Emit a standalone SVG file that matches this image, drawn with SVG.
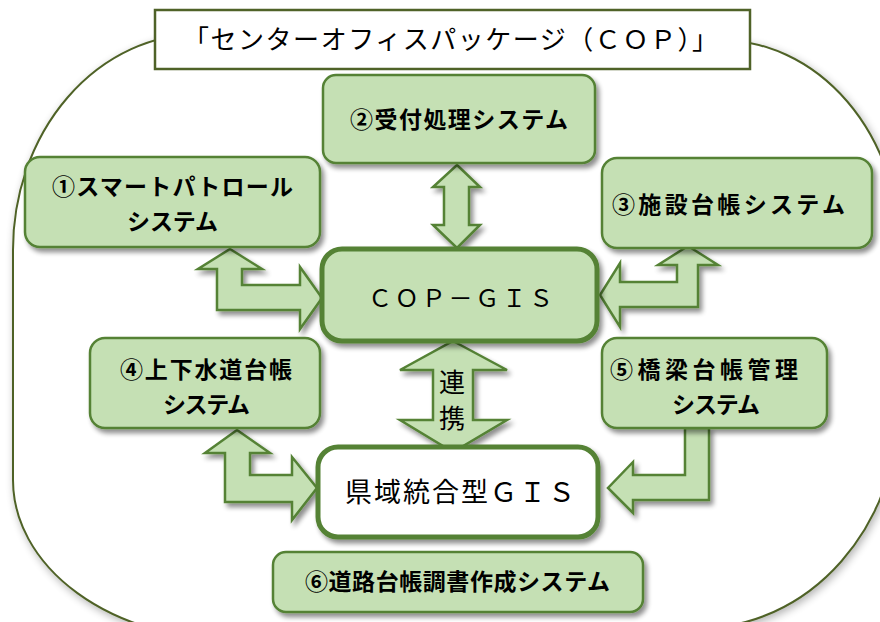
<svg xmlns="http://www.w3.org/2000/svg" width="880" height="622" viewBox="0 0 880 622">
<defs>
<filter id="sh" x="-20%" y="-20%" width="140%" height="140%">
<feGaussianBlur in="SourceAlpha" stdDeviation="2.5"/>
<feOffset dx="3" dy="4" result="b"/>
<feComponentTransfer><feFuncA type="linear" slope="0.45"/></feComponentTransfer>
<feMerge><feMergeNode/><feMergeNode in="SourceGraphic"/></feMerge>
</filter>
<filter id="shOuter" x="-10%" y="-10%" width="120%" height="120%">
<feGaussianBlur in="SourceAlpha" stdDeviation="4"/>
<feOffset dx="2" dy="3" result="b"/>
<feComponentTransfer><feFuncA type="linear" slope="0.3"/></feComponentTransfer>
<feMerge><feMergeNode/><feMergeNode in="SourceGraphic"/></feMerge>
</filter>
</defs>
<style>
.node{fill:#C5E0B4;stroke:#548235;stroke-width:2.5}
.core{fill:#C5E0B4;stroke:#548235;stroke-width:5}
.core2{fill:#FFFFFF;stroke:#548235;stroke-width:5}
.arrow{fill:#C5E0B4;stroke:#548235;stroke-width:2.5;stroke-linejoin:miter}
.t{font-family:"Noto Sans CJK JP","Noto Sans",sans-serif;font-weight:bold;font-size:23px;fill:#000;text-anchor:middle}
.r{font-family:"Noto Sans CJK JP","Noto Sans",sans-serif;font-weight:normal;fill:#000;text-anchor:middle}
</style>
<rect width="880" height="622" fill="#FFFFFF"/>
<g id="package">
<path d="M 200 34 A 187 216 0 0 0 13 250 L 13 480 A 220 160 0 0 0 233 640 L 700 628 A 200 228 0 0 0 900 400 L 900 250 A 180 210 0 0 0 720 40 Z" fill="#FFFFFF" stroke="#4F6228" stroke-width="2" filter="url(#shOuter)"/>
<rect x="155" y="10" width="595" height="59" fill="#FFFFFF" stroke="#4F6228" stroke-width="2.5"/>
<text class="r" x="450.5" y="49" font-size="26" textLength="535" lengthAdjust="spacing">「センターオフィスパッケージ（ＣＯＰ）」</text>
</g>
<g id="connectors" filter="url(#sh)">
<polygon class="arrow" points="457,165 480,187 469,187 469,225 480,225 457,248 433,225 444,225 444,187 433,187"/>
<polygon class="arrow" points="230,249 262,269 242,269 242,285 300,285 300,267 322,298 300,329 300,310 217,310 217,269 198,269"/>
<polygon class="arrow" points="688,246 718,265 698,265 698,307 620,307 620,327 600,295 620,263 620,282 677,282 677,265 658,265"/>
<polygon class="arrow" points="453,341 507,370 473,370 473,420 507,420 453,452 400,420 433,420 433,370 400,370"/>
<polygon class="arrow" points="237,430 270,453 250,453 250,475 292,475 292,457 317,488 292,520 292,502 225,502 225,453 205,453"/>
<polygon class="arrow" points="685,428 709,428 709,500 633,500 633,513 608,488 633,462 633,475 685,475"/>
</g>
<g id="renkei-label">
<text class="r" x="452" y="392" font-size="26">連</text>
<text class="r" x="452" y="428" font-size="26">携</text>
</g>
<g id="node2">
<rect class="node" x="323" y="75" width="272" height="88" rx="13" filter="url(#sh)"/>
<text class="t" x="459" y="128" textLength="218" lengthAdjust="spacing">②受付処理システム</text>
</g>
<g id="node1">
<rect class="node" x="25" y="157" width="295" height="90" rx="15" filter="url(#sh)"/>
<text class="t" x="172.5" y="195" textLength="241" lengthAdjust="spacing">①スマートパトロール</text>
<text class="t" x="172.5" y="230" textLength="91" lengthAdjust="spacing">システム</text>
</g>
<g id="node3">
<rect class="node" x="602" y="158" width="270" height="90" rx="15" filter="url(#sh)"/>
<text class="t" x="728.5" y="213" textLength="233" lengthAdjust="spacing">③施設台帳システム</text>
</g>
<g id="cop-gis">
<rect class="core" x="322" y="249" width="275" height="92" rx="20" filter="url(#sh)"/>
<text class="r" x="460.5" y="307" font-size="24" textLength="185" lengthAdjust="spacing">ＣＯＰ－ＧＩＳ</text>
</g>
<g id="node4">
<rect class="node" x="90" y="338" width="230" height="90" rx="15" filter="url(#sh)"/>
<text class="t" x="206" y="378" textLength="172" lengthAdjust="spacing">④上下水道台帳</text>
<text class="t" x="206.5" y="413" textLength="87" lengthAdjust="spacing">システム</text>
</g>
<g id="node5">
<rect class="node" x="602" y="338" width="225" height="90" rx="15" filter="url(#sh)"/>
<text class="t" x="704" y="378" textLength="188" lengthAdjust="spacing">⑤橋梁台帳管理</text>
<text class="t" x="716" y="413" textLength="88" lengthAdjust="spacing">システム</text>
</g>
<g id="kenki-gis">
<rect class="core2" x="318" y="447" width="280" height="90" rx="20" filter="url(#sh)"/>
<text class="r" x="460" y="502" font-size="27" textLength="230" lengthAdjust="spacing">県域統合型ＧＩＳ</text>
</g>
<g id="node6">
<rect class="node" x="273" y="552" width="370" height="60" rx="13" filter="url(#sh)"/>
<text class="t" x="457.5" y="590" textLength="305" lengthAdjust="spacing">⑥道路台帳調書作成システム</text>
</g>
</svg>
